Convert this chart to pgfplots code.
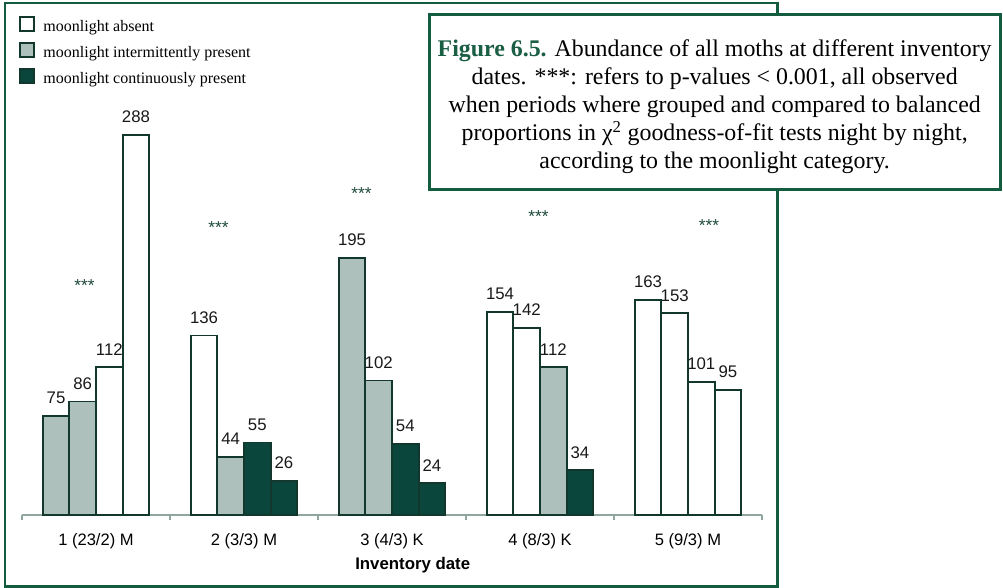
\documentclass[border=0pt]{standalone}
\usepackage{pgfplots}
\pgfplotsset{compat=1.18}
\usepackage{pgfplotstable}
\usepackage{fontspec}
\setmainfont{Liberation Serif}
\newfontfamily\arial{Liberation Sans}
\definecolor{framegreen}{HTML}{145C3F}
\definecolor{barline}{HTML}{12372D}
\definecolor{intgray}{HTML}{ADC0BB}
\definecolor{contgreen}{HTML}{0A463C}
\definecolor{axisgray}{HTML}{8FA79C}
\definecolor{stargreen}{HTML}{1F4A3E}
\definecolor{figgreen}{HTML}{1A5E44}

% x positions: group centre 0..4, bars at -0.27,-0.09,0.09,0.27
\pgfplotstableread{
x y
0.09 112
0.27 288
0.73 136
2.73 154
2.91 142
3.73 163
3.91 153
4.09 101
4.27 95
}\absent
\pgfplotstableread{
x y
-0.27 75
-0.09 86
0.91 44
1.73 195
1.91 102
3.09 112
}\intermittent
\pgfplotstableread{
x y
1.09 55
1.27 26
2.09 54
2.27 24
3.27 34
}\continuous

\begin{document}
\begin{tikzpicture}
\path (0pt,0pt) rectangle (752.25pt,-441pt);
\draw[framegreen, line width=2pt] (3.75pt,-2.25pt) rectangle (583pt,-440pt);
\begin{axis}[
  at={(16.5pt,-386.25pt)}, anchor=south west,
  scale only axis, width=555pt, height=296.8pt,
  xmin=-0.5, xmax=4.5, ymin=0, ymax=300,
  axis x line*=bottom, axis y line=none,
  axis line style={-, axisgray, line width=1.1pt},
  ybar, bar width=0.18, bar shift=0pt,
  xtick={0,1,2,3,4},
  xticklabels={1 (23/2) M, 2 (3/3) M, 3 (4/3) K, 4 (8/3) K, 5 (9/3) M},
  major tick length=0pt,
  minor xtick={-0.5,0.5,1.5,2.5,3.5,4.5},
  minor tick length=4pt, tick align=outside,
  every tick/.style={axisgray, line width=1pt},
  xticklabel style={font=\arial\fontsize{12.4}{14}\selectfont, anchor=base, yshift=-23pt},
  xlabel={Inventory date},
  xlabel style={font=\arial\bfseries\fontsize{12.6}{14}\selectfont, at={(axis description cs:0.528,-0.126)}, anchor=center},
  nodes near coords={\pgfmathprintnumber[assume math mode=true]{\pgfplotspointmeta}},
  every node near coord/.append style={font=\arial\fontsize{12.6}{14}\selectfont, text=black!90, yshift=5pt},
  legend image code/.code={\draw[#1,/tikz/.cd,yshift=0pt] (0pt,-2.35pt) rectangle (10.5pt,8.15pt);},
  legend style={draw=none, fill=none, at={(axis description cs:-0.004,1.262)}, anchor=north west,
    font=\fontsize{12}{14}\selectfont, inner sep=0pt, row sep=5.6pt,
    /tikz/every odd column/.append style={column sep=6.3pt},
    nodes={inner sep=0pt, text height=8.2pt, text depth=2.4pt}},
  legend cell align=left,
  clip=false,
]
\addplot[fill=white, draw=barline, line width=1.3pt] table {\absent};
\addlegendentry{moonlight absent}
\addplot[fill=intgray, draw=barline, line width=1.3pt] table {\intermittent};
\addlegendentry{moonlight intermittently present}
\addplot[fill=contgreen, draw=barline, line width=1.3pt] table {\continuous};
\addlegendentry{moonlight continuously present}

\begin{scope}[every node/.style={font=\arial\fontsize{13}{14}\selectfont, text=stargreen, yshift=-2.5pt}]
\node at (axis cs:-0.078,176.8) {***};
\node at (axis cs:0.828,220.3) {***};
\node at (axis cs:1.794,246.3) {***};
\node at (axis cs:2.99,228.7) {***};
\node at (axis cs:4.142,222.3) {***};
\end{scope}
\end{axis}
\filldraw[fill=white, draw=framegreen, line width=2pt] (322pt,-11pt) rectangle (750.5pt,-142pt);
\node[align=center, font=\fontsize{17.9}{21}\selectfont, inner sep=0pt] at (536pt,-80pt)
 {{\bfseries\color{figgreen}Figure 6.5.} Abundance of all moths at different inventory\\
  dates. ***: refers to p-values < 0.001, all observed\\
  when periods where grouped and compared to balanced\\
  proportions in χ\textsuperscript{2} goodness-of-fit tests night by night,\\
  according to the moonlight category.};
\end{tikzpicture}
\end{document}
